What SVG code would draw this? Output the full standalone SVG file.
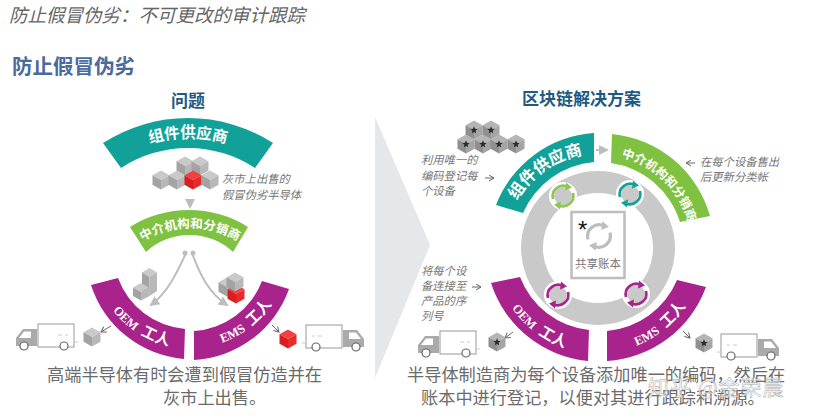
<svg xmlns="http://www.w3.org/2000/svg" width="823" height="419" viewBox="0 0 823 419">
<style>
text{font-family:"Noto Sans CJK SC","Liberation Sans",sans-serif}
.h1{font-size:18.5px;font-style:italic;fill:#666}
.h2{font-size:20.5px;font-weight:700;fill:#4a6a9e}
.h3{font-size:17px;font-weight:700;fill:#1d5a80}
.cap{font-size:17.2px;fill:#6b6b6b}
.note{font-size:11.3px;font-style:italic;fill:#777}
.arc{font-weight:700;fill:#fff;text-anchor:middle}
.oem{font-size:15px}
.lat{font-family:"Liberation Serif",serif;font-size:12.5px}
.teal{fill:#12a198}.green{fill:#7fc241}.mag{fill:#a9238d}
.flow{fill:none;stroke:#bdbdbd;stroke-width:2}
.thin{fill:none;stroke:#666;stroke-width:1}
.wheel{fill:#fff;stroke:#666;stroke-width:1.2}
</style>
<defs>
<marker id="ah" markerWidth="5" markerHeight="5" refX="4" refY="2.5" orient="auto"><path d="M0,0L5,2.5L0,5Z" fill="#bdbdbd"/></marker>
<marker id="th" markerWidth="7" markerHeight="7" refX="6" refY="3.5" orient="auto"><path d="M1,0.5L6,3.5L1,6.5" fill="none" stroke="#666"/></marker>
<g id="cube"><path d="M0,-9.5L8.5,-4.8L0,0L-8.5,-4.8Z" fill="#c9c9c9"/><path d="M-8.5,-4.8L0,0L0,9.5L-8.5,4.8Z" fill="#a3a3a3"/><path d="M8.5,-4.8L0,0L0,9.5L8.5,4.8Z" fill="#b8b8b8"/></g>
<g id="red"><path d="M0,-9.5L8.5,-4.8L0,0L-8.5,-4.8Z" fill="#f04040"/><path d="M-8.5,-4.8L0,0L0,9.5L-8.5,4.8Z" fill="#d81e1e"/><path d="M8.5,-4.8L0,0L0,9.5L8.5,4.8Z" fill="#e92a2a"/></g>
<g id="star"><path d="M0,-9.5L8.5,-4.8L0,0L-8.5,-4.8Z" fill="#b5b5b5"/><path d="M-8.5,-4.8L0,0L0,9.5L-8.5,4.8Z" fill="#8f8f8f"/><path d="M8.5,-4.8L0,0L0,9.5L8.5,4.8Z" fill="#a5a5a5"/><path d="M0,-3.8L1,-1.2L3.6,-1L1.6,0.7L2.2,3.3L0,1.9L-2.2,3.3L-1.6,0.7L-3.6,-1L-1,-1.2Z" fill="#2b2b2b"/></g>
<g id="truck"><rect x="22" y="0" width="36" height="23" fill="#fff" stroke="#aaa" stroke-width="1.2"/><path d="M0,22V14L7,5H21V22Z" fill="#aaa"/><path d="M8,7.5H15V14H3Z" fill="#fff"/><circle cx="8" cy="22" r="4" class="wheel"/><circle cx="48" cy="22" r="4" class="wheel"/><path d="M42,11H52M58,18H62" stroke="#ccc" stroke-dasharray="4 3" fill="none"/></g>
<g id="sync"><circle r="14" fill="#fff"/><circle r="9" fill="#c9c9c9"/><path d="M-10,3A10.5,10.5 0 0 1 5,-9M10,-3A10.5,10.5 0 0 1 -5,9" fill="none" stroke="currentColor" stroke-width="2.6"/><path d="M3,-13.5L9,-8.5L2,-5.5ZM-3,13.5L-9,8.5L-2,5.5Z" fill="currentColor"/></g>
<path id="pL1" d="M51,275A137,137 0 0 1 325,275"/>
<path id="pL2" d="M97,321A93,93 0 0 1 283,321"/>
<path id="pL3" d="M92,250A98,98 0 0 0 288,250"/>
<path id="pR1" d="M504,248A94,94 0 0 1 692,248"/>
<path id="pR3" d="M493,248A105,105 0 0 0 703,248"/>
</defs>
<path id="divider" d="M375,117L430,245L375,378Z" fill="#e6e7e8"/>
<text class="h1" x="9" y="22">防止假冒伪劣：不可更改的审计跟踪</text>
<text class="h2" x="12" y="74">防止假冒伪劣</text>
<text class="h3" x="171" y="107">问题</text>
<text class="h3" x="522" y="105">区块链解决方案</text>
<g id="connectors">
<path class="flow" marker-end="url(#ah)" d="M190,199V207"/>
<path class="flow" marker-end="url(#ah)" d="M186,253C176,275 167,293 151,305"/>
<path class="flow" marker-end="url(#ah)" d="M192,253C200,275 209,293 227,305"/>
<path class="flow" marker-end="url(#ah)" d="M596,150H607"/>
<path class="thin" marker-end="url(#th)" d="M111,326L101,332"/>
<path class="thin" marker-end="url(#th)" d="M272,325L279,332"/>
<path class="thin" marker-end="url(#th)" d="M485,178H494"/>
<path class="thin" marker-end="url(#th)" d="M695,163H686"/>
<path class="thin" marker-end="url(#th)" d="M472,287H481"/>
<path class="thin" marker-end="url(#th)" d="M513,332L505,338"/>
<path class="thin" marker-end="url(#th)" d="M683,331L690,338"/>
</g>
<g id="left-supplier"><path class="teal" d="M103,143A157,157 0 0 1 273,143L255,168A122,122 0 0 0 121,168Z"/><text class="arc" font-size="15.5"><textPath href="#pL1" startOffset="50%">组件供应商</textPath></text></g>
<g id="left-cubes"><use href="#cube" x="185" y="166"/><use href="#cube" x="200" y="166"/><use href="#cube" x="161" y="180"/><use href="#cube" x="177" y="180"/><use href="#cube" x="210" y="180"/><use href="#red" x="193" y="180"/></g>
<text class="note" x="222" y="183">灰市上出售的</text>
<text class="note" x="222" y="199">假冒伪劣半导体</text>
<g id="left-distributor"><path class="green" d="M130,227A111,111 0 0 1 248,227L233,252A64,64 0 0 0 146,252Z"/><text class="arc" font-size="12.5"><textPath href="#pL2" startOffset="50%">中介机构和分销商</textPath></text></g>
<g id="flow-dots"><circle cx="185" cy="253" r="2.5" fill="#bdbdbd"/><circle cx="193" cy="253" r="2.5" fill="#bdbdbd"/></g>
<g id="left-oem"><path class="mag" d="M91,285A107,107 0 0 0 184,359L185,329A78,78 0 0 1 118,278Z"/><text class="arc oem"><textPath href="#pL3" startOffset="32%"><tspan class="lat">OEM</tspan><tspan dx="7">工人</tspan></textPath></text></g>
<g id="left-ems"><path class="mag" d="M289,289A107,107 0 0 1 194,360V331A78,78 0 0 0 262,281Z"/><text class="arc oem"><textPath href="#pL3" startOffset="71%"><tspan class="lat">EMS</tspan><tspan dx="7">工人</tspan></textPath></text></g>
<g id="oem-stack"><path d="M149.5,268L157,272.5L149.5,277L142,272.5Z" fill="#c9c9c9"/><path d="M142,272.5L149.5,277V296L142,292Z" fill="#a3a3a3"/><path d="M149.5,277L157,272.5V291L149.5,296Z" fill="#b8b8b8"/><path d="M141,283L149,287.5L141,292L133,287.5Z" fill="#c9c9c9"/><path d="M133,287.5L141,292V300.5L133,296Z" fill="#a3a3a3"/><path d="M141,292L149.5,287.5V296L141,300.5Z" fill="#b8b8b8"/></g>
<g id="ems-stack"><use href="#cube" x="227" y="287"/><use href="#red" x="236" y="294"/><use href="#cube" x="235" y="282"/></g>
<use id="truck-1" href="#truck" transform="translate(16,324)"/>
<use href="#cube" x="92" y="337"/>
<use href="#red" x="288" y="339"/>
<use id="truck-2" href="#truck" transform="translate(364,325) scale(-1,1)"/>
<text class="cap" x="47" y="381">高端半导体有时会遭到假冒仿造并在</text>
<text class="cap" x="163" y="404">灰市上出售。</text>
<circle id="ring" cx="598" cy="248" r="66" fill="none" stroke="#c9c9c9" stroke-width="22"/>
<g id="right-stars"><use href="#star" x="474" y="130"/><use href="#star" x="491" y="130"/><use href="#star" x="466" y="144"/><use href="#star" x="483" y="144"/><use href="#star" x="499" y="144"/><use href="#star" x="516" y="144"/></g>
<g id="right-supplier"><path class="teal" d="M496,205A113,113 0 0 1 594,133V162A85,85 0 0 0 523,213Z"/><text class="arc" font-size="16.5"><textPath href="#pR1" startOffset="30.8%">组件供应商</textPath></text></g>
<g id="right-distributor"><path class="green" d="M612,134A113,113 0 0 1 710,216L680,222A85,85 0 0 0 611,163Z"/><text class="arc" font-size="12.2"><textPath href="#pR1" startOffset="74.5%">中介机构和分销商</textPath></text></g>
<g id="right-oem"><path class="mag" d="M491,283A113,113 0 0 0 588,361L589,330A83,83 0 0 1 520,277Z"/><text class="arc oem"><textPath href="#pR3" startOffset="29.5%"><tspan class="lat">OEM</tspan><tspan dx="7">工人</tspan></textPath></text></g>
<g id="right-ems"><path class="mag" d="M706,287A113,113 0 0 1 607,361V331A83,83 0 0 0 677,280Z"/><text class="arc oem"><textPath href="#pR3" startOffset="71.7%"><tspan class="lat">EMS</tspan><tspan dx="7">工人</tspan></textPath></text></g>
<g id="ledger"><rect x="571.5" y="212" width="53" height="66" fill="#fff" stroke="#bdbdbd" stroke-width="2.5"/><text x="578" y="238" font-size="24" fill="#111" style="font-family:'Liberation Sans',sans-serif">*</text><g transform="translate(599,236) scale(1.1)" color="#bdbdbd"><path d="M-10,3A10.5,10.5 0 0 1 5,-9M10,-3A10.5,10.5 0 0 1 -5,9" fill="none" stroke="currentColor" stroke-width="3"/><path d="M3,-13.5L9,-8.5L2,-5.5ZM-3,13.5L-9,8.5L-2,5.5Z" fill="currentColor"/></g><text x="598" y="268" font-size="11.5" fill="#777" text-anchor="middle">共享账本</text></g>
<use href="#sync" transform="translate(563,196)" color="#8ec653"/>
<use href="#sync" transform="translate(630,194)" color="#12a198"/>
<use href="#sync" transform="translate(558,295)" color="#a9238d"/>
<use href="#sync" transform="translate(636,294)" color="#a9238d"/>
<use id="truck-3" href="#truck" transform="translate(418,331)"/>
<use href="#star" x="497" y="342"/>
<use href="#star" x="704" y="343"/>
<use id="truck-4" href="#truck" transform="translate(779,334) scale(-1,1)"/>
<text class="note" x="421" y="164">利用唯一的</text><text class="note" x="421" y="180">编码登记每</text><text class="note" x="421" y="195">个设备</text>
<text class="note" x="700" y="166">在每个设备售出</text><text class="note" x="700" y="181">后更新分类帐</text>
<text class="note" x="421" y="275">将每个设</text><text class="note" x="421" y="290">备连接至</text><text class="note" x="421" y="305">产品的序</text><text class="note" x="421" y="320">列号</text>
<text class="cap" x="407" y="381">半导体制造商为每个设备添加唯一的编码，然后在</text>
<text class="cap" x="421" y="404">账本中进行登记，以便对其进行跟踪和溯源。</text>
<text x="648" y="395" font-size="21" fill="#fff" fill-opacity=".6" stroke="#aaa" stroke-width=".5" letter-spacing="1">知乎 @金荣晨</text>
</svg>
